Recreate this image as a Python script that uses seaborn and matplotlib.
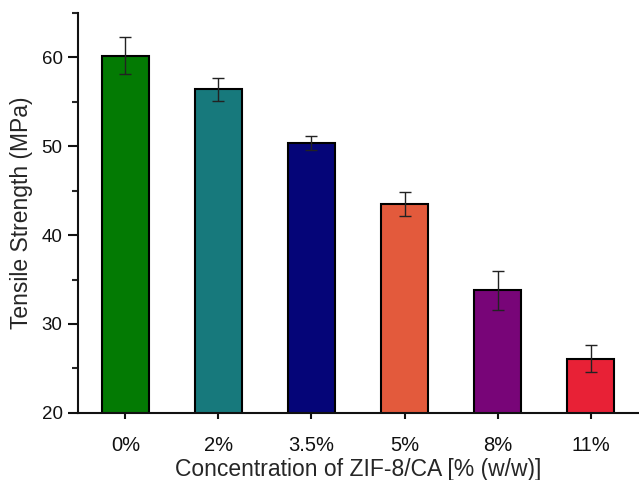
import matplotlib
matplotlib.use("Agg")
import matplotlib.pyplot as plt
import seaborn as sns
import pandas as pd
from matplotlib.ticker import MultipleLocator

categories = ["0%", "2%", "3.5%", "5%", "8%", "11%"]
strength = [60.2, 56.4, 50.4, 43.5, 33.8, 26.1]
errors = [2.1, 1.3, 0.8, 1.4, 2.2, 1.5]
colors = ["#037A03", "#17797C", "#050578", "#E35A3C", "#780578", "#E82136"]

df = pd.DataFrame({"conc": categories, "ts": strength})

sns.set_style("ticks")
plt.rcParams["font.family"] = ["Liberation Sans", "DejaVu Sans"]

fig = plt.figure(figsize=(6.39, 4.80), dpi=100)
ax = fig.add_axes([0.122, 0.140, 0.878, 0.833])

sns.barplot(data=df, x="conc", y="ts", hue="conc", palette=colors,
            order=categories, hue_order=categories, width=0.5,
            edgecolor="black", linewidth=1.5, legend=False, ax=ax,
            saturation=1)
ax.errorbar(range(len(categories)), strength, yerr=errors, fmt="none",
            ecolor="#222222", elinewidth=1.0, capsize=4, capthick=1.0)

ax.set_ylim(20, 65)
ax.set_xlim(-0.51, 5.52)
ax.yaxis.set_minor_locator(MultipleLocator(5))
ax.set_yticks([20, 30, 40, 50, 60])
ax.tick_params(axis="y", which="major", direction="out", length=7, width=1.5,
               labelsize=13.5, colors="#111111", pad=4)
ax.tick_params(axis="y", which="minor", direction="out", length=4, width=1.5)
ax.tick_params(axis="x", which="major", direction="out", length=4, width=1.5,
               labelsize=14.5, colors="#111111", pad=13)
for s in ["top", "right"]:
    ax.spines[s].set_visible(False)
for s in ["left", "bottom"]:
    ax.spines[s].set_linewidth(1.5)
    ax.spines[s].set_color("#111111")

ax.set_xlabel("Concentration of ZIF-8/CA [% (w/w)]", fontsize=16.5, labelpad=2)
ax.set_ylabel("Tensile Strength (MPa)", fontsize=16.5, labelpad=6)

fig.savefig("out.png", dpi=100)
